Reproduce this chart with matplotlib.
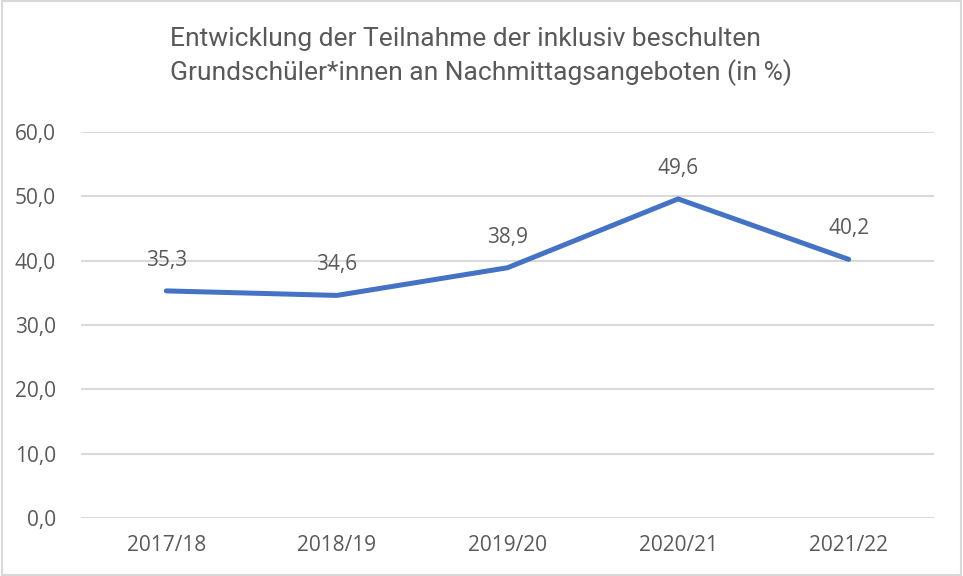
import matplotlib
matplotlib.use("Agg")
import matplotlib.pyplot as plt
from matplotlib.patches import Rectangle

plt.rcParams['font.family'] = ['Open Sans', 'DejaVu Sans']

# data
years = ["2017/18", "2018/19", "2019/20", "2020/21", "2021/22"]
values = [35.3, 34.6, 38.9, 49.6, 40.2]
yticks = [0, 10, 20, 30, 40, 50, 60]

title = "Entwicklung der Teilnahme der inklusiv beschulten\nGrundschüler*innen an Nachmittagsangeboten (in %)"

txt = "#595959"
grid = "#d9d9d9"
blue = "#4472C4"

fig = plt.figure(figsize=(9.63, 5.76), dpi=100)
ax = fig.add_axes([81/963, 1-518/576, (934-81)/963, (518-132)/576])

x = list(range(len(years)))
ax.plot(x, values, color=blue, lw=3.6, solid_capstyle='round', solid_joinstyle='round', zorder=3)
for xi, v in zip(x, values):
    ax.annotate(f"{v:.1f}".replace(".", ","), (xi, v), xytext=(0, 22), textcoords='offset points',
                ha='center', va='center', fontsize=15, color=txt)

ax.set_xlim(-0.5, len(years) - 0.5)
ax.set_ylim(0, 60)
ax.set_yticks(yticks)
ax.set_yticklabels([f"{t:.1f}".replace(".", ",") for t in yticks])
ax.set_xticks(x)
ax.set_xticklabels(years)
ax.tick_params(axis='both', length=0, labelsize=15, labelcolor=txt)
ax.tick_params(axis='y', pad=18)
ax.tick_params(axis='x', pad=12)
ax.grid(axis='y', color=grid, lw=1.5)
ax.set_axisbelow(True)
for s in ax.spines.values():
    s.set_visible(False)

fig.text(170/963, 1-27/576, title, ha='left', va='top', fontsize=19, color=txt,
         linespacing=1.38, family=['Roboto', 'DejaVu Sans'])

# chart border
fig.patches.append(Rectangle((0.002, 0.002), 0.996, 0.996, transform=fig.transFigure,
                             fill=False, edgecolor=grid, lw=1.5))

fig.savefig("out.png", dpi=100)
